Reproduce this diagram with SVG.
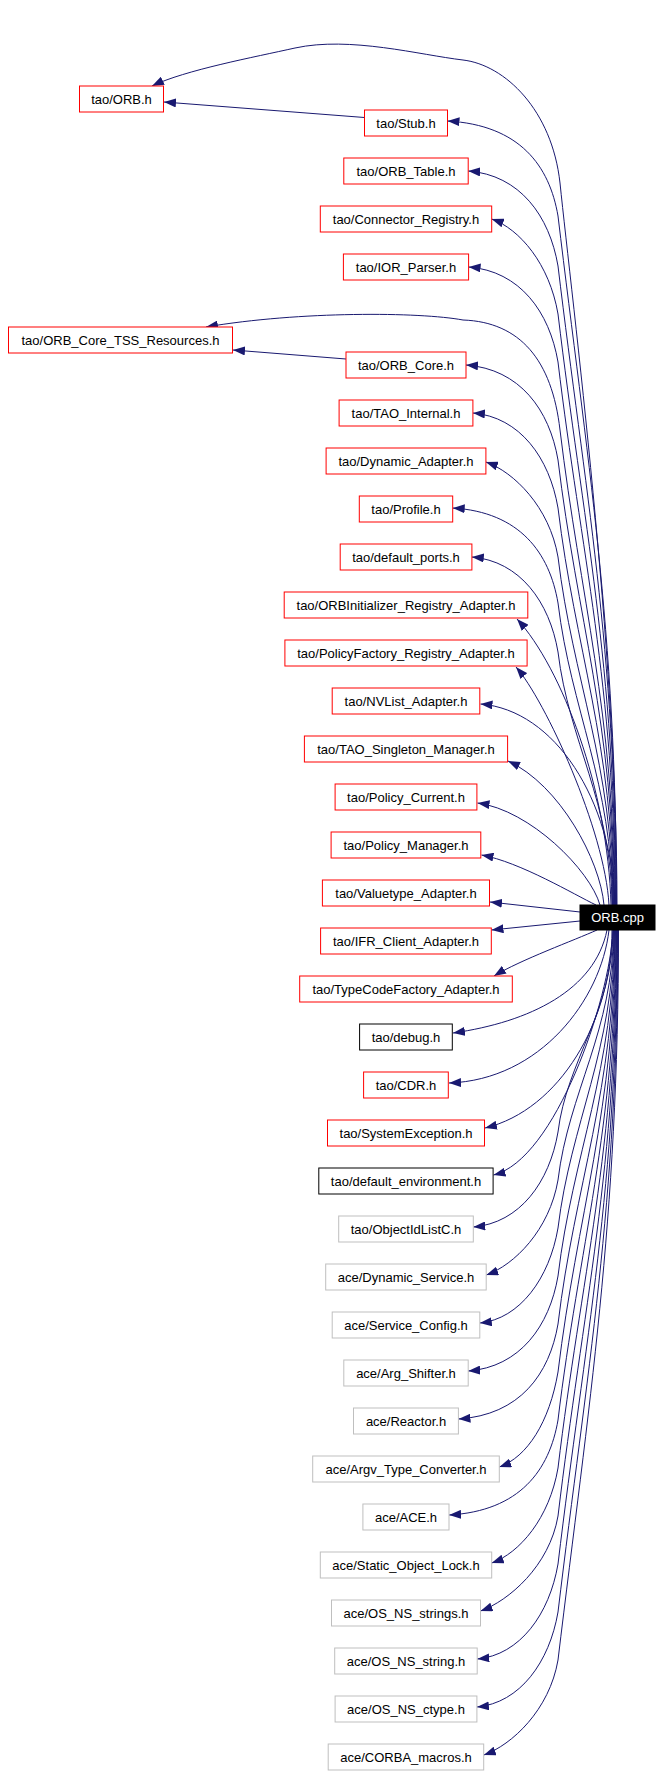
<svg xmlns="http://www.w3.org/2000/svg" width="661" height="1775" viewBox="0 0 661 1775">
<style>
rect.n{fill:#ffffff;stroke-width:1}
rect.r{stroke:#ff0000}
rect.k{stroke:#000000}
rect.g{stroke:#bfbfbf}
text{font-family:"Liberation Sans",Arial,Helvetica,sans-serif;font-size:13px;text-anchor:middle;fill:#000000}
#edges path{fill:none;stroke:#191970;stroke-width:1;marker-end:url(#ah)}
</style>
<defs>
<marker id="ah" viewBox="0 0 12 9" markerWidth="12" markerHeight="9" refX="12" refY="4.5" orient="auto" markerUnits="userSpaceOnUse"><path d="M0,0 L12,4.5 L0,9 z" fill="#191970"/></marker>
</defs>
<rect x="0" y="0" width="661" height="1775" fill="#ffffff"/>
<g id="edges">
<path d="M617,905 C617,650 572,300 560,183 C552,110 505,65 463,60 C420,55 350,36 295,48 C255,57 185,70 152,86"/>
<path d="M364.5,117.5 L164,102"/>
<path d="M616.5,905 C616.5,629.4 586.9,457.2 558,216 C549.5,166 520,125 447.5,121"/>
<path d="M616,905 C616,649.4 584.8,489.7 558,266 C549.5,216 520,175 468.2,171"/>
<path d="M615.5,905 C615.5,668.6 582.8,520.9 558,314 C549.5,264 519.7,229 491.7,219"/>
<path d="M615,905 C615,687.8 580.8,552.1 558,362 C549.5,312 520,271 468.6,267"/>
<path d="M614.5,905 C614.5,715 580,596 560,430 C552,360 520,322 463,320 C420,312 300,311 206,327"/>
<path d="M346,359 L233,350"/>
<path d="M614,905 C614,727 576.7,615.8 558,460 C549.5,410 520,369 466,365"/>
<path d="M613.5,905 C613.5,746.2 574.7,647 558,508 C549.5,458 520,417 472.9,413"/>
<path d="M613,905 C613,765.8 572.6,678.8 558,557 C549.5,507 513.9,472 485.9,462"/>
<path d="M612.5,905 C612.5,784.2 570.7,708.7 558,603 C549.5,553 520,512 452.7,508"/>
<path d="M612,905 C612,803.8 568.6,740.6 558,652 C549.5,602 520,561 471.8,557"/>
<path d="M611,905 C608,790 562,668 517,619"/>
<path d="M609,905 C605,830 545,700 516,667"/>
<path d="M615,905 C612,800 555,710 480.5,704"/>
<path d="M604,905 C600,860 560,785 508,761"/>
<path d="M600,905 C590,870 530,810 477.5,803"/>
<path d="M596,905 C575,895 520,862 481.5,855"/>
<path d="M580,912 L490,902"/>
<path d="M580,921 L491.5,930"/>
<path d="M597,930 C575,940 520,960 494,976"/>
<path d="M607,930 C595,990 530,1022 453,1033"/>
<path d="M609,930 C601,1000 540,1080 449,1083"/>
<path d="M612,930 C612,1020 560,1110 485,1128"/>
<path d="M613,930 C610,1000 555,1160 493.5,1175"/>
<path d="M613,930 C613,1010.8 566.5,1061.3 558,1132 C549.5,1182 520,1223 473.3,1227"/>
<path d="M613.5,930 C613.5,1030 568.5,1092.5 558,1180 C549.5,1230 514.3,1265 486.3,1275"/>
<path d="M614,930 C614,1049.2 570.5,1123.7 558,1228 C549.5,1278 520,1319 479.8,1323"/>
<path d="M614.5,930 C614.5,1068.4 572.5,1154.9 558,1276 C549.5,1326 520,1367 468.2,1371"/>
<path d="M615,930 C615,1087.6 574.5,1186.1 558,1324 C549.5,1374 520,1415 458.5,1419"/>
<path d="M615.5,930 C615.5,1106.8 576.6,1217.3 558,1372 C549.5,1422 527.3,1457 499.3,1467"/>
<path d="M616,930 C616,1126 578.6,1248.5 558,1420 C549.5,1470 520,1511 449.1,1515"/>
<path d="M616.5,930 C616.5,1145.2 580.6,1279.7 558,1468 C549.5,1518 519.7,1553 491.7,1563"/>
<path d="M617,930 C617,1164.4 582.6,1310.9 558,1516 C549.5,1566 508.5,1601 480.5,1611"/>
<path d="M617.5,930 C617.5,1183.6 584.6,1342.1 558,1564 C549.5,1614 520,1655 477.3,1659"/>
<path d="M618,930 C618,1202.8 586.6,1373.3 558,1612 C549.5,1662 520,1703 476.9,1707"/>
<path d="M618.5,930 C618.5,1222 588.7,1404.5 558,1660 C549.5,1710 511.8,1745 483.8,1755"/>
</g>
<g id="n_orb_h"><rect class="n r" x="79.5" y="86" width="84" height="26"/><text x="121.5" y="103.5">tao/ORB.h</text></g>
<g id="n_stub"><rect class="n r" x="364.5" y="110" width="83" height="26"/><text x="406" y="127.5">tao/Stub.h</text></g>
<g id="n_orb_table"><rect class="n r" x="343.8" y="158" width="124.4" height="26"/><text x="406" y="175.5">tao/ORB_Table.h</text></g>
<g id="n_connector"><rect class="n r" x="320.3" y="206" width="171.4" height="26"/><text x="406" y="223.5">tao/Connector_Registry.h</text></g>
<g id="n_ior"><rect class="n r" x="343.4" y="254" width="125.2" height="26"/><text x="406" y="271.5">tao/IOR_Parser.h</text></g>
<g id="n_tss"><rect class="n r" x="8.5" y="327" width="224" height="26"/><text x="120.5" y="344.5">tao/ORB_Core_TSS_Resources.h</text></g>
<g id="n_orb_core"><rect class="n r" x="346" y="352" width="120" height="26"/><text x="406" y="369.5">tao/ORB_Core.h</text></g>
<g id="n_tao_internal"><rect class="n r" x="339.1" y="400" width="133.8" height="26"/><text x="406" y="417.5">tao/TAO_Internal.h</text></g>
<g id="n_dyn_adapter"><rect class="n r" x="326.1" y="448" width="159.8" height="26"/><text x="406" y="465.5">tao/Dynamic_Adapter.h</text></g>
<g id="n_profile"><rect class="n r" x="359.3" y="496" width="93.4" height="26"/><text x="406" y="513.5">tao/Profile.h</text></g>
<g id="n_default_ports"><rect class="n r" x="340.2" y="544" width="131.7" height="26"/><text x="406" y="561.5">tao/default_ports.h</text></g>
<g id="n_orbinit"><rect class="n r" x="284.2" y="592" width="243.6" height="26"/><text x="406" y="609.5">tao/ORBInitializer_Registry_Adapter.h</text></g>
<g id="n_policyfactory"><rect class="n r" x="284.9" y="640" width="242.2" height="26"/><text x="406" y="657.5">tao/PolicyFactory_Registry_Adapter.h</text></g>
<g id="n_nvlist"><rect class="n r" x="332.2" y="688" width="147.6" height="26"/><text x="406" y="705.5">tao/NVList_Adapter.h</text></g>
<g id="n_singleton"><rect class="n r" x="304.4" y="736" width="203.2" height="26"/><text x="406" y="753.5">tao/TAO_Singleton_Manager.h</text></g>
<g id="n_policy_current"><rect class="n r" x="335.1" y="784" width="141.8" height="26"/><text x="406" y="801.5">tao/Policy_Current.h</text></g>
<g id="n_policy_manager"><rect class="n r" x="331.1" y="832" width="149.7" height="26"/><text x="406" y="849.5">tao/Policy_Manager.h</text></g>
<g id="n_valuetype"><rect class="n r" x="322.4" y="880" width="167.1" height="26"/><text x="406" y="897.5">tao/Valuetype_Adapter.h</text></g>
<g id="n_ifr"><rect class="n r" x="320.6" y="928" width="170.7" height="26"/><text x="406" y="945.5">tao/IFR_Client_Adapter.h</text></g>
<g id="n_typecode"><rect class="n r" x="299.7" y="976" width="212.6" height="26"/><text x="406" y="993.5">tao/TypeCodeFactory_Adapter.h</text></g>
<g id="n_debug"><rect class="n k" x="359.6" y="1024" width="92.7" height="26"/><text x="406" y="1041.5">tao/debug.h</text></g>
<g id="n_cdr"><rect class="n r" x="363.6" y="1072" width="84.7" height="26"/><text x="406" y="1089.5">tao/CDR.h</text></g>
<g id="n_sysexc"><rect class="n r" x="327.5" y="1120" width="157" height="26"/><text x="406" y="1137.5">tao/SystemException.h</text></g>
<g id="n_default_env"><rect class="n k" x="318.8" y="1168" width="174.3" height="26"/><text x="406" y="1185.5">tao/default_environment.h</text></g>
<g id="n_objectid"><rect class="n g" x="338.7" y="1216" width="134.6" height="26"/><text x="406" y="1233.5">tao/ObjectIdListC.h</text></g>
<g id="n_dyn_service"><rect class="n g" x="325.7" y="1264" width="160.5" height="26"/><text x="406" y="1281.5">ace/Dynamic_Service.h</text></g>
<g id="n_service_config"><rect class="n g" x="332.2" y="1312" width="147.6" height="26"/><text x="406" y="1329.5">ace/Service_Config.h</text></g>
<g id="n_arg_shifter"><rect class="n g" x="343.8" y="1360" width="124.4" height="26"/><text x="406" y="1377.5">ace/Arg_Shifter.h</text></g>
<g id="n_reactor"><rect class="n g" x="353.5" y="1408" width="104.9" height="26"/><text x="406" y="1425.5">ace/Reactor.h</text></g>
<g id="n_argv"><rect class="n g" x="312.7" y="1456" width="186.6" height="26"/><text x="406" y="1473.5">ace/Argv_Type_Converter.h</text></g>
<g id="n_ace"><rect class="n g" x="362.9" y="1504" width="86.1" height="26"/><text x="406" y="1521.5">ace/ACE.h</text></g>
<g id="n_static_lock"><rect class="n g" x="320.3" y="1552" width="171.4" height="26"/><text x="406" y="1569.5">ace/Static_Object_Lock.h</text></g>
<g id="n_os_strings"><rect class="n g" x="331.5" y="1600" width="149" height="26"/><text x="406" y="1617.5">ace/OS_NS_strings.h</text></g>
<g id="n_os_string"><rect class="n g" x="334.7" y="1648" width="142.5" height="26"/><text x="406" y="1665.5">ace/OS_NS_string.h</text></g>
<g id="n_os_ctype"><rect class="n g" x="335.1" y="1696" width="141.8" height="26"/><text x="406" y="1713.5">ace/OS_NS_ctype.h</text></g>
<g id="n_corba_macros"><rect class="n g" x="328.2" y="1744" width="155.5" height="26"/><text x="406" y="1761.5">ace/CORBA_macros.h</text></g>
<g id="n_orb_cpp"><rect x="580" y="905" width="75" height="25" fill="#000000" stroke="#000000"/><text x="617.5" y="922" style="fill:#ffffff">ORB.cpp</text></g>
</svg>
